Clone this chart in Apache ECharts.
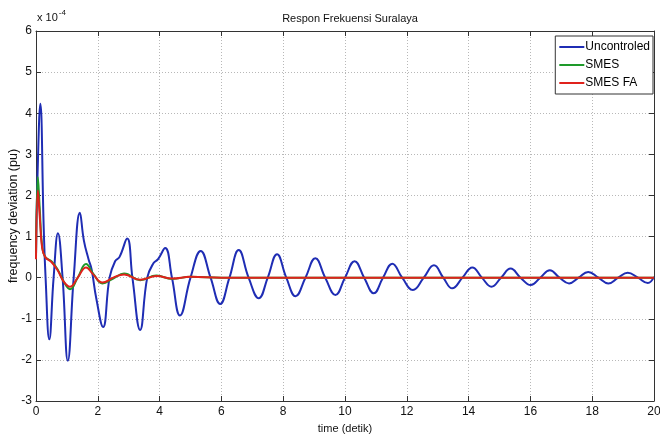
<!DOCTYPE html>
<html>
<head>
<meta charset="utf-8">
<script src="https://cdn.jsdelivr.net/npm/echarts@6/dist/echarts.min.js"></script>
<style>html,body{margin:0;padding:0;background:#fff}#c{width:660px;height:439px}</style>
</head>
<body>
<div id="c"></div>
<script>
var xTicks = [0, 2, 4, 6, 8, 10, 12, 14, 16, 18, 20];
var yTicks = [-3, -2, -1, 0, 1, 2, 3, 4, 5, 6];
var seriesNames = ['Uncontroled', 'SMES', 'SMES FA'];

var blueT = [0, 0.05, 0.14, 0.25, 0.31, 0.43, 0.57, 0.71, 0.86, 1.03, 1.22, 1.42, 1.55, 1.7, 1.8, 1.95, 2.17, 2.38, 2.56, 2.7, 2.95, 3.12, 3.37, 3.6, 3.8, 3.95, 4.18, 4.4, 4.66, 5.0, 5.33, 5.65, 5.96, 6.26, 6.56, 6.88, 7.21, 7.5, 7.8, 8.1, 8.4, 8.72, 9.04, 9.36, 9.69, 10.0, 10.31, 10.62, 10.93, 11.23, 11.53, 11.85, 12.2, 12.55, 12.88, 13.18, 13.47, 13.8, 14.12, 14.43, 14.74, 15.05, 15.36, 15.68, 16.01, 16.32, 16.63, 16.94, 17.25, 17.56, 17.87, 18.2, 18.52, 18.84, 19.15, 19.48, 19.8, 20];
var blueV = [0.5, 2.5, 4.23, 1.2, 0.0, -1.5, 0.0, 1.08, 0.0, -2.02, 0.0, 1.58, 0.9, 0.45, 0.2, -0.5, -1.2, 0.0, 0.4, 0.5, 0.95, 0.0, -1.27, 0.0, 0.35, 0.45, 0.72, 0.0, -0.92, 0.0, 0.65, 0.0, -0.64, 0.0, 0.67, 0.0, -0.5, 0.0, 0.57, 0.0, -0.45, 0.0, 0.47, 0.0, -0.42, 0.0, 0.4, 0.0, -0.38, 0.0, 0.34, 0.0, -0.3, 0.0, 0.3, 0.0, -0.26, 0.0, 0.25, 0.0, -0.22, 0.0, 0.22, 0.0, -0.18, 0.0, 0.18, 0.0, -0.14, 0.0, 0.14, 0.0, -0.14, 0.0, 0.12, 0.0, -0.13, 0.02];

var greenT = [0, 0.06, 0.12, 0.2, 0.3, 0.5, 0.7, 0.9, 1.1, 1.35, 1.62, 1.85, 2.15, 2.5, 2.85, 3.37, 3.9, 4.4, 5.0, 6.0, 8.0, 20];
var greenV = [0.5, 2.45, 1.7, 0.75, 0.5, 0.4, 0.2, -0.1, -0.28, 0.0, 0.33, 0.1, -0.14, -0.02, 0.1, -0.06, 0.05, -0.03, 0.02, 0.0, 0.0, 0.0];

var redT = [0, 0.06, 0.12, 0.2, 0.3, 0.5, 0.7, 0.9, 1.1, 1.35, 1.62, 1.85, 2.15, 2.5, 2.85, 3.37, 3.9, 4.4, 5.0, 6.0, 8.0, 20];
var redV = [0.45, 2.12, 1.5, 0.72, 0.5, 0.38, 0.18, -0.1, -0.22, 0.0, 0.25, 0.08, -0.12, 0.0, 0.08, -0.05, 0.04, -0.02, 0.02, 0.0, 0.0, 0.0];

function pairs(t, v) { return t.map(function (x, i) { return [x, v[i]]; }); }

var chart = echarts.init(document.getElementById('c'), null, {renderer: 'canvas'});
var font = 'Liberation Sans, Arial, sans-serif';
var gridLine = {show: true, lineStyle: {color: '#b8b8b8', type: [1, 2], width: 1}};
var frame = {show: true, onZero: false, lineStyle: {color: '#333', width: 1}};
var tickIn = {show: true, inside: true, length: 5, lineStyle: {color: '#333'}};

chart.setOption({
  animation: false,
  backgroundColor: '#fff',
  title: {
    text: 'Respon Frekuensi Suralaya', left: 345, top: 8, textAlign: 'center',
    textStyle: {fontFamily: font, fontSize: 11, fontWeight: 'normal', color: '#111'}
  },
  grid: {left: 36, right: 6, top: 31, bottom: 38, containLabel: false, outerBoundsMode: 'none'},
  legend: {
    data: seriesNames, orient: 'vertical', right: 7, top: 36,
    icon: 'rect', itemWidth: 25, itemHeight: 2, itemGap: 6,
    borderColor: '#333', borderWidth: 1, borderRadius: 0, padding: [5, 3, 5, 4],
    backgroundColor: '#fff',
    textStyle: {fontFamily: font, fontSize: 12, color: '#000', padding: [0, 0, 0, -4], width: 60, overflow: 'none'}
  },
  xAxis: [{
    type: 'value', min: xTicks[0], max: xTicks[xTicks.length - 1], interval: 2,
    name: 'time (detik)', nameLocation: 'middle', nameGap: 22, nameMoveOverlap: false,
    nameTextStyle: {fontFamily: font, fontSize: 11, color: '#111'},
    axisLine: frame, axisTick: tickIn, splitLine: gridLine,
    axisLabel: {fontFamily: font, fontSize: 12, color: '#111', margin: 5}
  }, {
    type: 'value', position: 'top', min: 0, max: 20, interval: 2,
    axisLine: frame, axisTick: tickIn, splitLine: {show: false}, axisLabel: {show: false}
  }],
  yAxis: [{
    type: 'value', min: yTicks[0], max: yTicks[yTicks.length - 1], interval: 1,
    name: 'frequency deviation (pu)', nameLocation: 'middle', nameGap: 16, nameMoveOverlap: false,
    nameTextStyle: {fontFamily: font, fontSize: 12.5, color: '#111'},
    axisLine: frame, axisTick: tickIn, splitLine: gridLine,
    axisLabel: {fontFamily: font, fontSize: 12, color: '#111', margin: 4}
  }, {
    type: 'value', position: 'right', min: -3, max: 6, interval: 1,
    axisLine: frame, axisTick: tickIn, splitLine: {show: false}, axisLabel: {show: false}
  }],
  graphic: [{
    type: 'text', left: 37, top: 9,
    style: {
      text: '{a|x 10}{b|-4}',
      rich: {
        a: {fontFamily: font, fontSize: 11, fill: '#111', padding: [6, 0, 0, 0]},
        b: {fontFamily: font, fontSize: 8, fill: '#111', padding: [0, 0, 4, 1]}
      }
    }
  }],
  series: [{
    name: seriesNames[0], type: 'line', data: pairs(blueT, blueV), symbol: 'none',
    smooth: 0.45, lineStyle: {color: '#1f2db4', width: 2}, itemStyle: {color: '#1f2db4'}, z: 3
  }, {
    name: seriesNames[1], type: 'line', data: pairs(greenT, greenV), symbol: 'none',
    smooth: 0.45, lineStyle: {color: '#1e9a2a', width: 2}, itemStyle: {color: '#1e9a2a'}, z: 4
  }, {
    name: seriesNames[2], type: 'line', data: pairs(redT, redV), symbol: 'none',
    smooth: 0.45, lineStyle: {color: '#e0221c', width: 2}, itemStyle: {color: '#e0221c'}, z: 5
  }]
});
</script>
</body>
</html>
